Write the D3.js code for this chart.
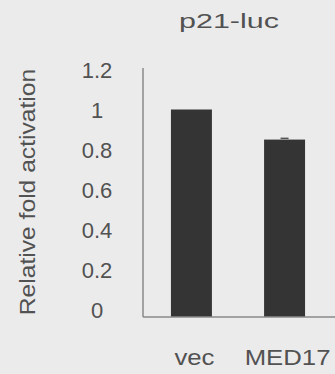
<!DOCTYPE html>
<html>
<head>
<meta charset="utf-8">
<script src="https://cdn.jsdelivr.net/npm/d3@7"></script>
<style>
  body { margin: 0; background: #ebebeb; }
  svg { display: block; }
  text { font-family: "Liberation Sans", Arial, sans-serif; fill: #525252; }
</style>
</head>
<body>
<div id="vis"></div>
<script>
// data
const CATEGORIES = ["vec", "MED17"];
const VALUES = [1.0, 0.855];
const ERRORS = [0, 0.006];
const TICKS = [0, 0.2, 0.4, 0.6, 0.8, 1, 1.2];

const FRAME_WIDTH = 335;
const FRAME_HEIGHT = 374;

const FRAME = d3.select("#vis")
  .append("svg")
  .attr("width", FRAME_WIDTH)
  .attr("height", FRAME_HEIGHT);

// scales
const X_SCALE = d3.scaleBand()
  .domain(CATEGORIES)
  .range([143, 333])
  .paddingInner(0.56)
  .paddingOuter(0.3);

const Y_SCALE = d3.scaleLinear()
  .domain([0, 1.2])
  .range([317, 68]);

// tick labels sit on a slightly tighter grid than the bars in the scan
const LABEL_SCALE = d3.scaleLinear()
  .domain([0, 1.2])
  .range([310, 70]);

// bars
FRAME.selectAll(".bar")
  .data(CATEGORIES)
  .enter()
  .append("rect")
  .attr("x", (d) => X_SCALE(d))
  .attr("y", (d, i) => Y_SCALE(VALUES[i]))
  .attr("width", X_SCALE.bandwidth())
  .attr("height", (d, i) => Y_SCALE(0) - Y_SCALE(VALUES[i]))
  .attr("fill", "#343434");

// error caps
FRAME.selectAll(".err")
  .data(CATEGORIES.filter((d, i) => ERRORS[i] > 0))
  .enter()
  .append("line")
  .attr("x1", (d) => X_SCALE(d) + X_SCALE.bandwidth() / 2 - 4)
  .attr("x2", (d) => X_SCALE(d) + X_SCALE.bandwidth() / 2 + 4)
  .attr("y1", (d) => Y_SCALE(VALUES[CATEGORIES.indexOf(d)] + ERRORS[CATEGORIES.indexOf(d)]))
  .attr("y2", (d) => Y_SCALE(VALUES[CATEGORIES.indexOf(d)] + ERRORS[CATEGORIES.indexOf(d)]))
  .attr("stroke", "#555")
  .attr("stroke-width", 1.5);

// axis lines
FRAME.append("line")
  .attr("x1", 143).attr("x2", 143)
  .attr("y1", Y_SCALE(1.2)).attr("y2", Y_SCALE(0))
  .attr("stroke", "#8a8a8a").attr("stroke-width", 1.5);

FRAME.append("line")
  .attr("x1", 143).attr("x2", FRAME_WIDTH)
  .attr("y1", Y_SCALE(0)).attr("y2", Y_SCALE(0))
  .attr("stroke", "#8a8a8a").attr("stroke-width", 1.5);

// y tick labels
FRAME.selectAll(".tick-label")
  .data(TICKS)
  .enter()
  .append("text")
  .attr("x", 97)
  .attr("y", (d) => LABEL_SCALE(d))
  .attr("dy", "0.36em")
  .attr("text-anchor", "middle")
  .attr("font-size", "22px")
  .text((d) => d);

// x labels
FRAME.selectAll(".x-label")
  .data(CATEGORIES)
  .enter()
  .append("text")
  .attr("x", (d) => X_SCALE(d) + X_SCALE.bandwidth() / 2 + 3)
  .attr("y", 365)
  .attr("text-anchor", "middle")
  .attr("font-size", "23px")
  .attr("transform", (d) => {
    const cx = X_SCALE(d) + X_SCALE.bandwidth() / 2 + 3;
    return "translate(" + cx + ",0) scale(1.12,1) translate(" + (-cx) + ",0)";
  })
  .text((d) => d);

// title
FRAME.append("text")
  .attr("x", 229)
  .attr("y", 28)
  .attr("text-anchor", "middle")
  .attr("font-size", "21px")
  .attr("transform", "translate(229,0) scale(1.45,1) translate(-229,0)")
  .text("p21-luc");

// y axis title
FRAME.append("text")
  .attr("transform", "translate(35,192) rotate(-90) scale(1.12,1)")
  .attr("text-anchor", "middle")
  .attr("font-size", "22px")
  .text("Relative fold activation");
</script>
</body>
</html>
